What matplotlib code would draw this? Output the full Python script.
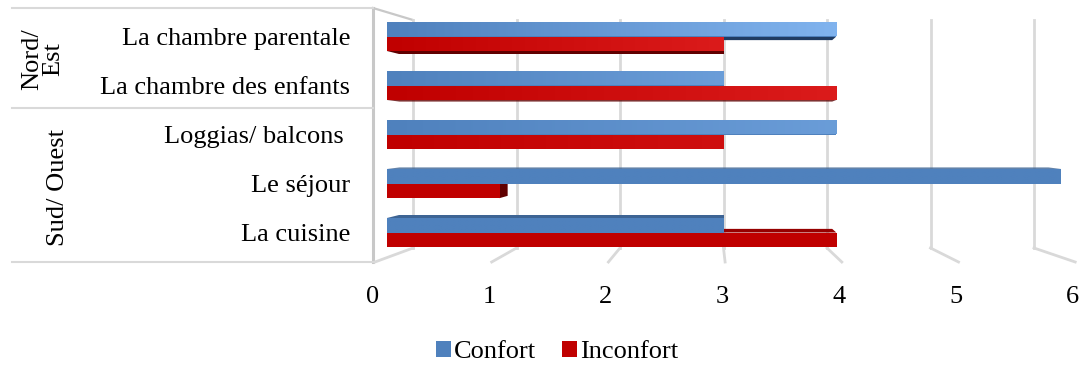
import numpy as np
import matplotlib
matplotlib.use("Agg")
from matplotlib import pyplot as plt
from matplotlib.patches import Polygon, Patch
from matplotlib.colors import to_rgb

# data
categories = ["La chambre parentale", "La chambre des enfants", "Loggias/ balcons ",
              "Le séjour", "La cuisine"]
groups = ["Nord/\nEst", "Sud/ Ouest"]
confort = [4, 3, 4, 6, 3]
inconfort = [3, 4, 3, 1, 4]
xticks = [0, 1, 2, 3, 4, 5, 6]

plt.rcParams['font.family'] = ['Liberation Serif', 'DejaVu Serif']
FS = 19

W, H = 1082, 368
fig = plt.figure(figsize=(W/100, H/100), dpi=100)

# background "3D" frame, in pixel units
bg = fig.add_axes([0, 0, 1, 1], zorder=0)
bg.set_xlim(0, W)
bg.set_ylim(H, 0)
bg.axis("off")
gcol = "#d9d9d9"
# left wall + category table lines
bg.plot([373, 373], [8, 262], color="#c8c8c8", lw=2.2)
bg.plot([373, 413], [8, 20], color="#c8c8c8", lw=1.6)
for yy in [8, 108, 262]:
    bg.plot([12, 373], [yy, yy], color=gcol, lw=1.5)
# grid: back wall vertical + floor diagonal towards front
for t in xticks:
    xb = 413 + 103.5 * t
    xf = 375 + 116.7 * t
    bg.plot([xb, xb], [20, 248], color=gcol, lw=2)
    bg.plot([xb, xf], [248, 262], color=gcol, lw=2)
    bg.text(373 + 116.5 * t, 297, str(t), ha="center", va="center", fontsize=FS)

# group labels
bg.text(43, 59, groups[0], rotation=90, ha="center", va="center", fontsize=FS,
        multialignment="center", linespacing=0.95)
bg.text(58, 187, groups[1], rotation=90, ha="center", va="center", fontsize=FS)

# bar axes
left, right = 387, 1061
top, bot = 12, 257
ax = fig.add_axes([left/W, 1 - bot/H, (right-left)/W, (bot-top)/H], zorder=1)
ax.patch.set_alpha(0)
for s in ax.spines.values():
    s.set_visible(False)
ax.set_xticks([])
y = np.arange(len(categories))
ax.set_yticks(y)
ax.set_yticklabels(categories, fontsize=FS)
ax.tick_params(axis="y", length=0, pad=26.5)

h = 0.3
blue, red = "#4f81bd", "#c00000"
blue_hi, red_hi = "#80b3ee", "#e42424"
blue_bot, red_bot = "#203c63", "#600000"
blue_top, red_top = "#3d6494", "#960000"
glow = [1.0, 0.75, 0.55, 0.0, 0.0]

# perspective: vanishing point and depth
vx, vy, k = 3.0, 2.0, 0.037

def back(px, py):
    return px + (vx - px) * k, py + (vy - py) * k

def faces(x1, y0, y1, c_bot, c_top):
    # side faces of a box whose front is [0,x1] x [y0,y1]
    polys = []
    if y1 < vy:   # bottom face visible
        polys.append(([(0, y1), (x1, y1), back(x1, y1), back(0, y1)], c_bot))
    if y0 > vy:   # top face visible
        polys.append(([(0, y0), (x1, y0), back(x1, y0), back(0, y0)], c_top))
    if x1 < vx:   # right face visible
        polys.append(([(x1, y0), (x1, y1), back(x1, y1), back(x1, y0)], c_bot))
    for p, c in polys:
        ax.add_patch(Polygon(p, closed=True, facecolor=c, edgecolor="none", zorder=2))

series = [(confort, -h/2, blue, blue_hi, blue_bot, blue_top),
          (inconfort, h/2, red, red_hi, red_bot, red_top)]
for vals, off, c0, c1, cb, ct in series:
    for i, v in enumerate(vals):
        faces(v, i + off - h/2, i + off + h/2, cb, ct)

for vals, off, c0, c1, cb, ct in series:
    bars = ax.barh(y + off, vals, height=h, color=c0, zorder=3)
    a, b = np.array(to_rgb(c0)), np.array(to_rgb(c1))
    for i, bar in enumerate(bars):
        v = vals[i]
        xs = np.linspace(0, v, 64)
        frac = np.clip(xs / 4.0, 0, 1) * glow[i]
        img = a[None, :] + (b - a)[None, :] * frac[:, None]
        im = ax.imshow(img[None, :, :], extent=[0, v, i + off + h/2, i + off - h/2],
                       aspect="auto", zorder=4, interpolation="bilinear")
        im.set_clip_path(bar)

ax.set_xlim(0, 6)
ax.set_ylim(4.5, -0.5)

handles = [Patch(facecolor=blue, label="Confort"), Patch(facecolor=red, label="Inconfort")]
fig.legend(handles=handles, loc="center", bbox_to_anchor=(557/W, 1 - 352/H), ncol=2,
           frameon=False, fontsize=FS, handlelength=0.55, handleheight=0.55,
           handletextpad=0.12, columnspacing=1.0)

fig.savefig("out.png", dpi=100)
